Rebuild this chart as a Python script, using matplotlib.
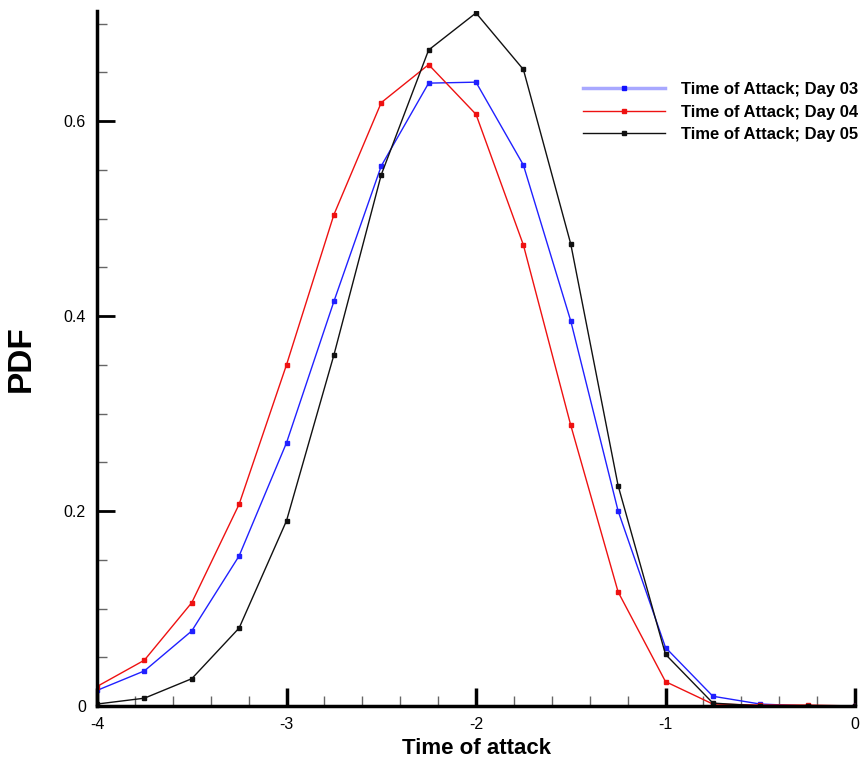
import matplotlib
matplotlib.use("Agg")
import matplotlib.pyplot as plt
from matplotlib.ticker import MultipleLocator

plt.rcParams['font.family'] = ['Liberation Sans', 'DejaVu Sans']

x = [-4.0, -3.75, -3.5, -3.25, -3.0, -2.75, -2.5, -2.25, -2.0, -1.75, -1.5, -1.25, -1.0, -0.75, -0.5, -0.25, 0.0]
day03 = [0.016, 0.036, 0.077, 0.154, 0.270, 0.415, 0.554, 0.639, 0.640, 0.555, 0.395, 0.200, 0.060, 0.010, 0.002, 0.000, 0.000]
day04 = [0.020, 0.047, 0.106, 0.207, 0.350, 0.504, 0.619, 0.658, 0.607, 0.473, 0.288, 0.117, 0.025, 0.002, 0.001, 0.001, 0.000]
day05 = [0.002, 0.008, 0.028, 0.080, 0.190, 0.360, 0.545, 0.673, 0.711, 0.653, 0.474, 0.226, 0.053, 0.003, 0.000, 0.000, 0.000]
labels = ["Time of Attack; Day 03", "Time of Attack; Day 04", "Time of Attack; Day 05"]
colors = ["#2020ff", "#ee1111", "#111111"]

fig = plt.figure(figsize=(8.67, 7.62), dpi=100)
ax = fig.add_axes([97/867, 56/762, (855-97)/867, (706-11)/762])

for ys, lab, c in zip([day03, day04, day05], labels, colors):
    ax.plot(x, ys, color=c, lw=1.0, marker='s', ms=2.2, mec=c, mfc=c, label=lab)

ax.set_xlim(-4, 0)
ax.set_ylim(0, 0.713)
ax.xaxis.set_minor_locator(MultipleLocator(0.2))
ax.yaxis.set_minor_locator(MultipleLocator(0.05))
ax.set_xticks([-4, -3, -2, -1, 0])
ax.set_xticklabels(['-4', '-3', '-2', '-1', '0'])
ax.set_yticks([0, 0.2, 0.4, 0.6])
ax.set_yticklabels(['0', '0.2', '0.4', '0.6'])

for s in ['top', 'right']:
    ax.spines[s].set_visible(False)
for s in ['left', 'bottom']:
    ax.spines[s].set_linewidth(2.5)
    ax.spines[s].set_color('black')

ax.tick_params(axis='x', which='major', direction='in', length=13, width=2.5, labelsize=11.5, pad=8)
ax.tick_params(axis='y', which='major', direction='in', length=13, width=2.0, labelsize=11.5, pad=8)
ax.tick_params(axis='both', which='minor', direction='in', length=7, width=1.0, color='#666666')

ax.set_xlabel('Time of attack', fontsize=16, fontweight='bold', labelpad=4)
ax.set_ylabel('PDF', fontsize=24, fontweight='bold')
ax.yaxis.set_label_coords(-0.079, 0.5)

leg = ax.legend(loc='upper left', bbox_to_anchor=(583/867, 1 - 82/762), bbox_transform=fig.transFigure,
                frameon=False, fontsize=12, handlelength=4.9, handletextpad=1.0,
                labelspacing=0.45, borderpad=0, borderaxespad=0)
for t in leg.get_texts():
    t.set_fontweight('bold')
h0 = leg.legend_handles[0]
h0.set_color('#a8a8ff')
h0.set_linewidth(2.5)
h0.set_markerfacecolor('#1010ff')
h0.set_markeredgecolor('#1010ff')

fig.savefig('out.png', dpi=100)
